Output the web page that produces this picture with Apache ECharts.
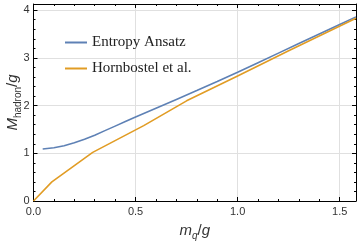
<!DOCTYPE html>
<html><head><meta charset="utf-8">
<script src="https://cdn.jsdelivr.net/npm/echarts@6/dist/echarts.min.js"></script>
<style>html,body{margin:0;padding:0;background:#fff}#c{width:361px;height:245px}</style>
</head><body><div id="c"></div>
<script>
const entropyX = [0.045, 0.1, 0.15, 0.2, 0.25, 0.3, 0.35, 0.4, 0.45, 0.5, 0.6, 0.7, 0.8, 0.9, 1.0, 1.1, 1.2, 1.3, 1.4, 1.5, 1.58];
const entropyY = [1.09, 1.115, 1.16, 1.22, 1.295, 1.38, 1.475, 1.57, 1.665, 1.76, 1.945, 2.13, 2.315, 2.505, 2.70, 2.90, 3.10, 3.30, 3.50, 3.70, 3.86];
const hornX = [0, 0.09, 0.29, 0.54, 0.75, 1.0, 1.25, 1.58];
const hornY = [0, 0.40, 1.02, 1.58, 2.10, 2.62, 3.15, 3.83];
const seriesNames = ['Entropy Ansatz', 'Hornbostel et al.'];
const xTickValues = [0, 0.5, 1.0, 1.5];
const xTicks = ['0.0', '0.5', '1.0', '1.5'];
const yTickValues = [0, 1, 2, 3, 4];
const yTicks = ['0', '1', '2', '3', '4'];

const chart = echarts.init(document.getElementById('c'), null, {renderer: 'canvas'});
const frameLine = {show: true, onZero: false, lineStyle: {color: '#000', width: 1}};
const tick = {show: true, inside: true, length: 4, lineStyle: {color: '#000', width: 1}};
const minor = {show: true, splitNumber: 5, length: 2, lineStyle: {color: '#000', width: 1}};
const labelStyle = {fontFamily: 'Liberation Sans', fontSize: 11, color: '#333'};
const blank = {show: false, formatter: () => ''};
chart.setOption({
  animation: false,
  grid: {left: 33.5, right: 5, top: 4, bottom: 44, containLabel: false, outerBoundsMode: 'none'},
  legend: {
    orient: 'vertical', left: 60, top: 30, itemWidth: 22, itemHeight: 2, itemGap: 11,
    icon: 'rect',
    data: seriesNames,
    textStyle: {fontFamily: 'Liberation Serif', fontSize: 15, color: '#222', lineHeight: 15}
  },
  xAxis: [{
    type: 'value', min: 0, max: 1.58, interval: 0.5, position: 'bottom',
    axisLine: frameLine, axisTick: tick, minorTick: minor,
    splitLine: {show: true, lineStyle: {color: '#e0e0e0', width: 1}},
    axisLabel: Object.assign({margin: 5, customValues: xTickValues, hideOverlap: false,
      formatter: v => xTicks[xTickValues.findIndex(t => Math.abs(t - v) < 1e-6)] || ''}, labelStyle),
    name: '{i|m}{s|q}{n|/}{i|g}', nameLocation: 'middle', nameGap: 22, nameMoveOverlap: false,
    nameTextStyle: {rich: {
      i: {fontFamily: 'Liberation Sans', fontStyle: 'italic', fontSize: 15, color: '#333'},
      n: {fontFamily: 'Liberation Sans', fontSize: 15, color: '#333'},
      s: {fontFamily: 'Liberation Sans', fontStyle: 'italic', fontSize: 10, color: '#333', verticalAlign: 'bottom', padding: [0, 0, -3, 0]}
    }}
  }, {
    type: 'value', min: 0, max: 1.58, interval: 0.5, position: 'top',
    axisLine: frameLine, axisTick: tick, minorTick: minor,
    splitLine: {show: false}, axisLabel: blank
  }],
  yAxis: [{
    type: 'value', min: 0, max: 4.13, interval: 1, position: 'left',
    axisLine: frameLine, axisTick: tick, minorTick: minor,
    splitLine: {show: true, lineStyle: {color: '#e0e0e0', width: 1}},
    axisLabel: Object.assign({margin: 4, inside: false, customValues: yTickValues, hideOverlap: false,
      formatter: v => yTicks[yTickValues.findIndex(t => Math.abs(t - v) < 1e-6)] || ''}, labelStyle),
    name: '{i|M}{s|hadron}{n|/}{i|g}', nameLocation: 'middle', nameGap: 13, nameMoveOverlap: false,
    nameTextStyle: {rich: {
      i: {fontFamily: 'Liberation Sans', fontStyle: 'italic', fontSize: 15, color: '#333'},
      n: {fontFamily: 'Liberation Sans', fontSize: 15, color: '#333'},
      s: {fontFamily: 'Liberation Sans', fontSize: 10, color: '#333', verticalAlign: 'bottom', padding: [0, 0, -3, 0]}
    }}
  }, {
    type: 'value', min: 0, max: 4.13, interval: 1, position: 'right',
    axisLine: frameLine, axisTick: tick, minorTick: minor,
    splitLine: {show: false}, axisLabel: blank
  }],
  series: [{
    name: seriesNames[0], type: 'line', symbol: 'none', smooth: false,
    data: entropyX.map((x, i) => [x, entropyY[i]]),
    lineStyle: {color: '#5E81B5', width: 1.6}, itemStyle: {color: '#5E81B5'}
  }, {
    name: seriesNames[1], type: 'line', symbol: 'none',
    data: hornX.map((x, i) => [x, hornY[i]]),
    lineStyle: {color: '#E19C24', width: 1.6}, itemStyle: {color: '#E19C24'}
  }]
});
</script></body></html>
